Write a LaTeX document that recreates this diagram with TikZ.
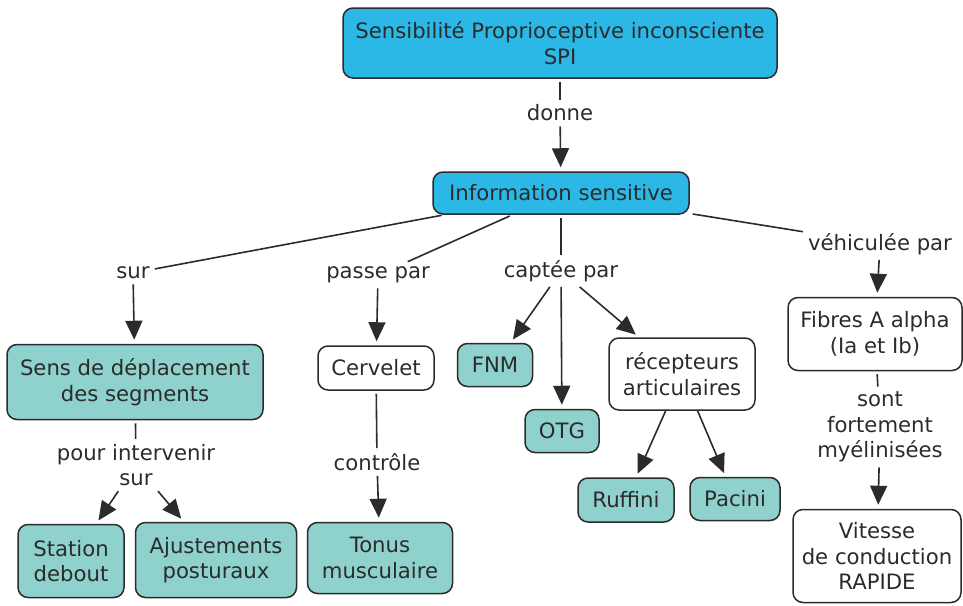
\documentclass[tikz,border=0pt]{standalone}
\usepackage{fontspec}
\setmainfont{DejaVu Sans}
\usetikzlibrary{arrows.meta}
\definecolor{spiblue}{HTML}{2BB8E6}
\definecolor{spiteal}{HTML}{8FD1CD}
\definecolor{spiline}{HTML}{2B2B2B}
\tikzset{
  concept/.style={draw=spiline, line width=1.5pt, rounded corners=10pt, align=center, inner sep=3pt, text=spiline},
  bluebox/.style={concept, fill=spiblue},
  tealbox/.style={concept, fill=spiteal},
  whitebox/.style={concept, fill=white},
  linkword/.style={align=center, inner sep=5pt, text=spiline},
  link/.style={draw=spiline, line width=1.6pt, shorten <=3pt},
  linkarrow/.style={draw=spiline, line width=1.6pt, -{Triangle[length=19pt,width=17pt]}, shorten >=4pt},
}
\begin{document}
\begin{tikzpicture}[x=1pt,y=-1pt,font=\fontsize{21.2}{25.5}\selectfont]
      \useasboundingbox (0,0) rectangle (963,605);
      % concepts
      \node[bluebox, minimum width=434, minimum height=70] (spi) at (560,43) {Sensibilité Proprioceptive inconsciente\\SPI};
      \node[bluebox, minimum width=256, minimum height=42] (info) at (561,193) {Information sensitive};
      \node[tealbox, minimum width=256, minimum height=75] (sens) at (135,382) {Sens de déplacement\\des segments};
      \node[whitebox, minimum width=116, minimum height=44] (cervelet) at (376,368) {Cervelet};
      \node[tealbox, minimum width=75, minimum height=43] (fnm) at (495,365) {FNM};
      \node[tealbox, minimum width=74, minimum height=43] (otg) at (562,431) {OTG};
      \node[whitebox, minimum width=146, minimum height=72] (recep) at (682,374) {récepteurs\\articulaires};
      \node[tealbox, minimum width=96, minimum height=44] (ruffini) at (626,500) {Ruffini};
      \node[tealbox, minimum width=90, minimum height=43] (pacini) at (735,499) {Pacini};
      \node[whitebox, minimum width=174, minimum height=73] (fibres) at (875,334) {Fibres A alpha\\(Ia et Ib)};
      \node[whitebox, minimum width=168, minimum height=93] (vitesse) at (877,556) {Vitesse\\de conduction\\RAPIDE};
      \node[tealbox, minimum width=106, minimum height=73] (station) at (71,561) {Station\\debout};
      \node[tealbox, minimum width=161, minimum height=75] (ajust) at (216,560) {Ajustements\\posturaux};
      \node[tealbox, minimum width=145, minimum height=71] (tonus) at (380,558) {Tonus\\musculaire};
      % linking words
      \node[linkword] (donne) at (560,113) {donne};
      \node[linkword] (sur) at (133,273) {sur};
      \node[linkword] (passe) at (378,275) {passe par};
      \node[linkword] (captee) at (561,271) {captée par};
      \node[linkword] (vehic) at (880,244) {véhiculée par};
      \node[linkword] (pour) at (136,465) {pour intervenir\\sur};
      \node[linkword] (controle) at (377,462) {contrôle};
      \node[linkword] (myelin) at (880,427) {sont\\fortement\\myélinisées};
      % connectors
      \draw[link] (spi) -- (donne);
      \draw[linkarrow] (donne) -- (info);
      \draw[link] (info) -- (sur);
      \draw[linkarrow] (sur) -- (sens);
      \draw[link] (info) -- (passe);
      \draw[linkarrow] (passe) -- (cervelet);
      \draw[link] (info) -- (captee);
      \draw[linkarrow] (captee) -- (fnm);
      \draw[linkarrow] (captee) -- (otg);
      \draw[linkarrow] (captee) -- (recep);
      \draw[linkarrow] (recep) -- (ruffini);
      \draw[linkarrow] (recep) -- (pacini);
      \draw[link] (info) -- (vehic);
      \draw[linkarrow] (vehic) -- (fibres);
      \draw[link] (fibres) -- (myelin);
      \draw[linkarrow] (myelin) -- (vitesse);
      \draw[link] (sens) -- (pour);
      \draw[linkarrow] (pour) -- (station);
      \draw[linkarrow] (pour) -- (ajust);
      \draw[link] (cervelet) -- (controle);
      \draw[linkarrow] (controle) -- (tonus);
\end{tikzpicture}
\end{document}
